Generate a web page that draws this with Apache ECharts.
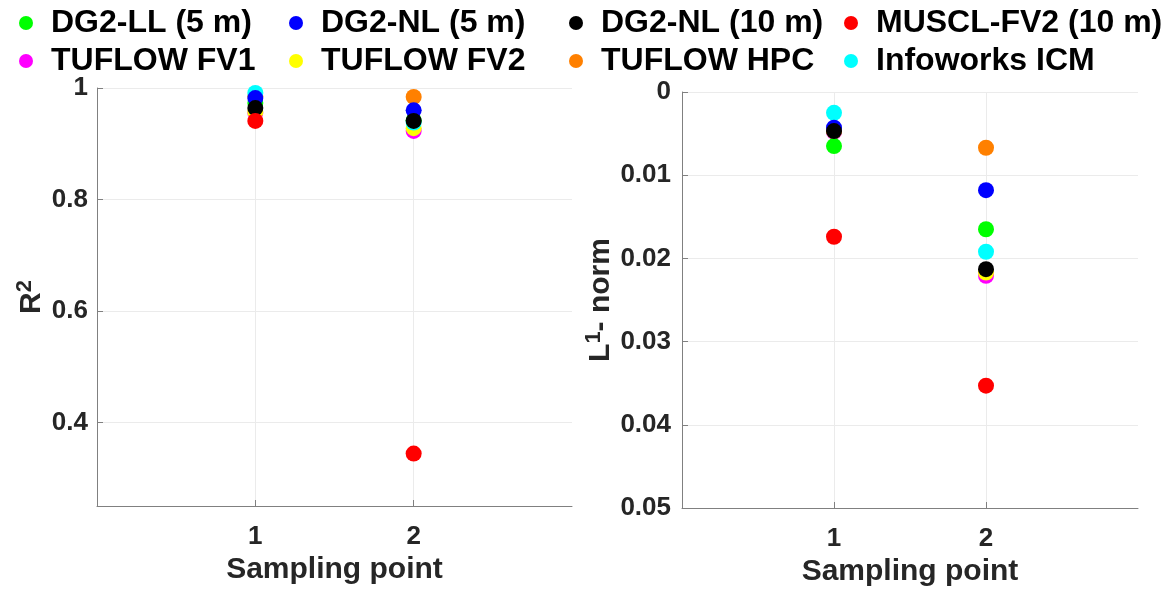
<!DOCTYPE html>
<html><head><meta charset="utf-8">
<script src="https://cdn.jsdelivr.net/npm/echarts@6/dist/echarts.min.js"></script>
<style>html,body{margin:0;padding:0;background:#fff}#c{width:1175px;height:597px}</style>
</head><body><div id="c"></div>
<script>
// ---- data ----
const seriesNames = ['DG2-LL (5 m)', 'DG2-NL (5 m)', 'DG2-NL (10 m)', 'MUSCL-FV2 (10 m)',
                     'TUFLOW FV1', 'TUFLOW FV2', 'TUFLOW HPC', 'Infoworks ICM'];
const seriesColors = ['#00ff00', '#0000ff', '#000000', '#ff0000', '#ff00ff', '#ffff00', '#ff8000', '#00ffff'];
const samplingPoints = [1, 2];
// R^2 at sampling points 1 and 2
const r2_DG2LL5   = [0.973, 0.942];
const r2_DG2NL5   = [0.982, 0.960];
const r2_DG2NL10  = [0.964, 0.941];
const r2_MUSCL10  = [0.941, 0.344];
const r2_FV1      = [0.955, 0.923];
const r2_FV2      = [0.957, 0.928];
const r2_HPC      = [0.985, 0.984];
const r2_ICM      = [0.991, 0.938];
// L1-norm at sampling points 1 and 2
const l1_DG2LL5   = [0.0065, 0.0165];
const l1_DG2NL5   = [0.0043, 0.0118];
const l1_DG2NL10  = [0.0047, 0.0213];
const l1_MUSCL10  = [0.0174, 0.0353];
const l1_FV1      = [0.0048, 0.0221];
const l1_FV2      = [0.0047, 0.0217];
const l1_HPC      = [0.0046, 0.0067];
const l1_ICM      = [0.0025, 0.0192];
const xTicks = [1, 2];
const r2Ticks = [0.4, 0.6, 0.8, 1];

const r2Data = [r2_DG2LL5, r2_DG2NL5, r2_DG2NL10, r2_MUSCL10, r2_FV1, r2_FV2, r2_HPC, r2_ICM];
const l1Data = [l1_DG2LL5, l1_DG2NL5, l1_DG2NL10, l1_MUSCL10, l1_FV1, l1_FV2, l1_HPC, l1_ICM];

// ---- styling ----
const FONT = '"Liberation Sans", Arial, Helvetica, sans-serif';
const TXT = '#262626';
const AXC = '#808080';
const drawOrder = [4, 5, 6, 7, 0, 1, 2, 3];

function xAxis(gi) {
  return {
    type: 'value', gridIndex: gi, min: 0, max: 3, interval: 1,
    name: 'Sampling point', nameLocation: 'middle', nameGap: 46,
    nameTextStyle: {fontSize: 30, fontWeight: 'bold', color: TXT, fontFamily: FONT},
    axisLine: {onZero: false, lineStyle: {color: AXC, width: 1}},
    axisTick: {show: true, inside: true, length: 6, customValues: xTicks, lineStyle: {color: AXC}},
    axisLabel: {customValues: xTicks, fontSize: 26, fontWeight: 'bold', color: TXT, fontFamily: FONT, margin: 18},
    splitLine: {show: true, lineStyle: {color: '#ebebeb'}}
  };
}

const legends = [];
const legendX = [14, 284, 564, 839];
const legendY = [2, 40];
seriesNames.forEach((n, i) => {
  legends.push({
    data: [{name: n}], left: legendX[i % 4], top: legendY[Math.floor(i / 4)],
    icon: 'circle', itemWidth: 40, itemHeight: 14, selectedMode: false,
    textStyle: {fontSize: 32, fontWeight: 'bold', color: '#000', fontFamily: FONT}
  });
});

const series = [];
drawOrder.forEach(i => {
  series.push({
    type: 'scatter', name: seriesNames[i], xAxisIndex: 0, yAxisIndex: 0,
    symbol: 'circle', symbolSize: 16, itemStyle: {color: seriesColors[i], opacity: 1},
    emphasis: {disabled: true}, z: 3,
    data: samplingPoints.map((x, k) => [x, r2Data[i][k]])
  });
});
drawOrder.forEach(i => {
  series.push({
    type: 'scatter', name: seriesNames[i], xAxisIndex: 1, yAxisIndex: 1,
    symbol: 'circle', symbolSize: 16, itemStyle: {color: seriesColors[i], opacity: 1},
    emphasis: {disabled: true}, z: 3,
    data: samplingPoints.map((x, k) => [x, l1Data[i][k]])
  });
});

const richName = {
  a: {fontSize: 30, fontWeight: 'bold', color: TXT, fontFamily: FONT},
  b: {fontSize: 22, fontWeight: 'bold', color: TXT, fontFamily: FONT, verticalAlign: 'top', padding: [0, 0, 14, 0]}
};

const option = {
  backgroundColor: '#fff',
  animation: false,
  textStyle: {fontFamily: FONT},
  legend: legends,
  grid: [
    {left: 97, top: 88, width: 475, height: 418},
    {left: 682, top: 92, width: 456, height: 416}
  ],
  xAxis: [xAxis(0), xAxis(1)],
  yAxis: [
    {
      type: 'value', gridIndex: 0, min: 0.25, max: 1,
      name: '{a|R}{b|2}', nameLocation: 'middle', nameGap: 47, nameRotate: 90,
      nameTextStyle: {color: TXT, fontFamily: FONT, rich: richName},
      axisLine: {show: true, onZero: false, lineStyle: {color: AXC}},
      axisTick: {show: true, inside: true, length: 6, customValues: r2Ticks, lineStyle: {color: AXC}},
      axisLabel: {customValues: r2Ticks, fontSize: 26, fontWeight: 'bold', color: TXT, fontFamily: FONT, margin: 9,
                  formatter: v => (v === 1 ? '1' : String(+v.toFixed(2)))},
      splitLine: {show: true, lineStyle: {color: '#ebebeb'}}
    },
    {
      type: 'value', gridIndex: 1, min: 0, max: 0.05, interval: 0.01, inverse: true,
      name: '{a|L}{b|1}{a|- norm}', nameLocation: 'middle', nameGap: 63, nameRotate: 90,
      nameTextStyle: {color: TXT, fontFamily: FONT, rich: richName},
      axisLine: {show: true, onZero: false, lineStyle: {color: AXC}},
      axisTick: {show: true, inside: true, length: 6, lineStyle: {color: AXC}},
      axisLabel: {fontSize: 26, fontWeight: 'bold', color: TXT, fontFamily: FONT, margin: 11,
                  formatter: v => String(+v.toFixed(2))},
      splitLine: {show: true, lineStyle: {color: '#ebebeb'}}
    }
  ],
  series: series
};
const chart = echarts.init(document.getElementById('c'), null, {renderer: 'canvas'});
chart.setOption(option);
</script>
</body></html>
